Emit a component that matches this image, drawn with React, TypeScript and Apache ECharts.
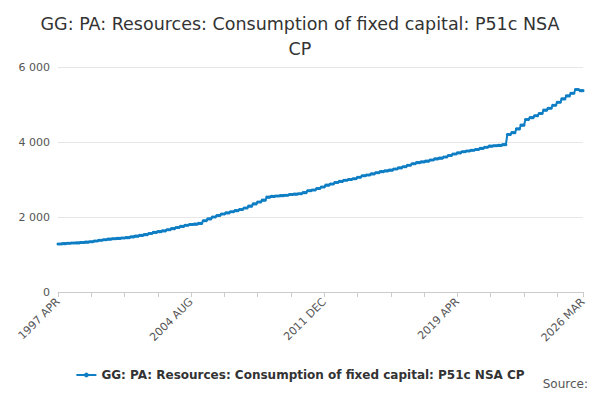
import React, { useEffect, useRef } from "react";
import * as echarts from "echarts";

const monthNames = ["JAN", "FEB", "MAR", "APR", "MAY", "JUN", "JUL", "AUG", "SEP", "OCT", "NOV", "DEC"];
// quarterly values, fiscal years Apr-Mar, 1997 to 2025
const quarterValues = [
  1280, 1290, 1300, 1305, 1310, 1320, 1330, 1340, 1360, 1380, 1395, 1410,
  1420, 1430, 1440, 1450, 1470, 1490, 1510, 1530, 1560, 1590, 1610, 1630,
  1660, 1690, 1720, 1750, 1780, 1800, 1810, 1830, 1900, 1950, 2000, 2040,
  2080, 2110, 2140, 2170, 2200, 2240, 2290, 2350, 2400, 2450, 2530, 2550,
  2560, 2570, 2580, 2600, 2610, 2620, 2650, 2700, 2720, 2760, 2800, 2850,
  2880, 2920, 2950, 2980, 3000, 3020, 3060, 3100, 3120, 3150, 3180, 3210,
  3230, 3250, 3280, 3310, 3340, 3380, 3420, 3450, 3470, 3490, 3520, 3550,
  3570, 3600, 3640, 3680, 3710, 3740, 3760, 3780, 3800, 3830, 3860, 3890,
  3900, 3910, 3930, 4200, 4250, 4350, 4450, 4600, 4650, 4700, 4760, 4850,
  4900, 4980, 5060, 5150, 5230, 5300, 5400, 5370,
];
const labelIndices = [0, 88, 176, 264, 347];
const seriesName = "GG: PA: Resources: Consumption of fixed capital: P51c NSA CP";

const categories: string[] = [];
const values: number[] = [];
quarterValues.forEach((v, q) => {
  for (let m = 0; m < 3; m++) {
    const idx = q * 3 + m;
    const month = (3 + idx) % 12;
    const year = 1997 + Math.floor((3 + idx) / 12);
    categories.push(`${year} ${monthNames[month]}`);
    values.push(v);
  }
});

const App = () => {
  const chartRef = useRef(null);

  useEffect(() => {
    const chart = echarts.init(chartRef.current, null, { renderer: "svg" });
    chart.setOption({
      animation: false,
      title: {
        text: "GG: PA: Resources: Consumption of fixed capital: P51c NSA\nCP",
        left: "center",
        top: -2,
        textStyle: { fontSize: 17.5, fontWeight: "normal", color: "#333", lineHeight: 25, fontFamily: "DejaVu Sans" },
      },
      grid: { left: 50, right: 9, top: 59, bottom: 100 },
      legend: {
        bottom: 6,
        left: "center",
        data: [seriesName],
        textStyle: { fontSize: 12, fontWeight: "bold", color: "#333", fontFamily: "DejaVu Sans" },
        itemWidth: 20,
        itemHeight: 6,
      },
      graphic: [
        { type: "text", right: 4, bottom: 2, style: { text: "Source:", fontSize: 12, fill: "#555", fontFamily: "DejaVu Sans" } },
      ],
      xAxis: {
        type: "category",
        data: categories,
        boundaryGap: false,
        axisLine: { lineStyle: { color: "#ccc" } },
        axisTick: { interval: (i: number) => labelIndices.includes(i) || i % 22 === 0, lineStyle: { color: "#ccc" } },
        axisLabel: {
          interval: (i: number) => labelIndices.includes(i),
          rotate: 45,
          color: "#555",
          fontSize: 11,
          fontFamily: "DejaVu Sans",
        },
      },
      yAxis: {
        type: "value",
        min: 0,
        max: 6000,
        interval: 2000,
        axisLabel: {
          color: "#555",
          fontSize: 11,
          fontFamily: "DejaVu Sans",
          formatter: (v: number) => String(v).replace(/\B(?=(\d{3})+(?!\d))/g, " "),
        },
        splitLine: { lineStyle: { color: "#e6e6e6" } },
      },
      series: [
        {
          name: seriesName,
          type: "line",
          data: values,
          symbol: "circle",
          symbolSize: 3,
          showAllSymbol: true,
          itemStyle: { color: "#0f7ec4" },
          lineStyle: { width: 2, color: "#0f7ec4" },
        },
      ],
    });
    return () => {
      chart.dispose();
    };
  }, []);

  return <div ref={chartRef} style={{ width: "584px", height: "384px" }}></div>;
};

export default App;
